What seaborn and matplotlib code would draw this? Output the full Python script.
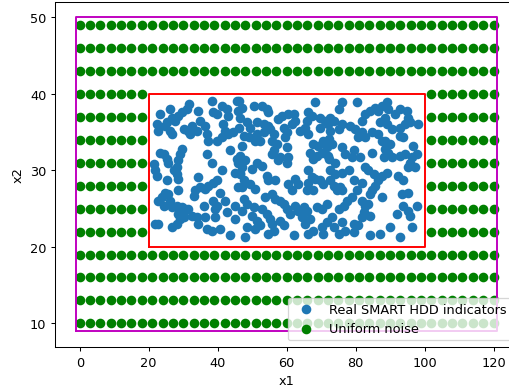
import matplotlib
matplotlib.use("Agg")
import matplotlib.pyplot as plt
import seaborn as sns
import numpy as np
import pandas as pd

# Uniform noise lattice (columns and rows of the grid)
noise_x_values = [0, 3, 6, 9, 12, 15, 18, 21, 24, 27, 30, 33, 36, 39, 42, 45, 48, 51, 54, 57,
                  60, 63, 66, 69, 72, 75, 78, 81, 84, 87, 90, 93, 96, 99, 102, 105, 108, 111,
                  114, 117, 120]
noise_y_values = [10, 13, 16, 19, 22, 25, 28, 31, 34, 37, 40, 43, 46, 49]

# Real SMART HDD indicators
real_x = [38.3, 41.2, 31.7, 31.0, 23.3, 26.2, 26.7, 25.3, 27.7, 28.6, 29.6, 34.4, 34.9, 38.7, 39.7,
          42.6, 43.1, 45.5, 46.0, 22.4, 22.8, 24.8, 26.2, 26.7, 30.1, 31.5, 32.5, 33.9, 32.0, 36.3,
          36.8, 37.3, 41.6, 42.1, 43.1, 44.5, 41.2, 39.7, 23.3, 24.3, 25.3, 25.7, 29.6, 29.1, 28.6,
          28.1, 27.2, 28.1, 36.8, 38.3, 43.6, 45.5, 46.0, 46.4, 45.0, 21.4, 21.9, 22.4, 25.3, 28.6,
          41.2, 39.7, 38.7, 37.3, 36.3, 34.9, 34.4, 33.4, 33.0, 40.7, 46.0, 24.8, 23.8, 22.8, 24.3,
          25.7, 26.2, 26.7, 28.6, 28.1, 29.6, 30.6, 28.6, 29.1, 30.1, 31.5, 35.9, 38.7, 39.7, 39.2,
          42.1, 42.6, 45.0, 32.5, 33.9, 34.4, 36.3, 39.2, 45.0, 21.9, 22.8, 26.7, 28.1, 36.8, 38.3,
          40.7, 43.6,
          46.1, 47.0, 50.4, 52.8, 54.3, 54.7, 46.5, 48.5, 49.4, 51.4, 53.3, 54.7, 55.2, 57.6, 58.6,
          60.5, 62.0, 62.4, 61.5, 68.2, 66.3, 67.3, 65.8, 65.3, 66.3, 69.7, 71.1, 72.1, 69.7, 72.6,
          46.1, 47.5, 49.0, 47.0, 51.4, 53.3, 52.3, 50.9, 56.2, 55.7, 57.1, 56.2, 55.7, 59.1, 60.0,
          59.5, 60.0, 58.1, 57.6, 60.5, 60.0, 63.9, 67.7, 69.2, 70.6, 71.6, 70.2, 72.1, 66.8, 68.7,
          67.7, 46.5, 48.0, 47.0, 46.5, 51.4, 52.8, 49.9, 54.3, 54.7, 47.5, 47.0, 49.4, 50.9, 56.7,
          60.5, 62.4, 63.4, 61.5, 66.3, 67.3, 68.2, 66.3, 69.7, 70.6, 65.8, 67.7, 53.8, 55.7, 56.7,
          58.1, 59.1, 47.5, 48.5, 47.0, 50.4, 49.9, 52.8, 54.3, 60.0, 61.0, 62.4, 63.4, 64.9, 65.8,
          64.4, 68.7, 70.2, 71.6, 51.4, 52.3, 50.9, 55.2, 55.7, 54.7, 56.2, 58.1, 59.1, 66.8, 65.3,
          66.3, 67.7, 70.2, 70.6, 71.6, 48.0, 48.5, 62.0,
          76.0, 75.1, 80.4, 89.0, 87.6, 89.5, 84.2, 85.7, 86.6, 82.8, 81.8, 92.9, 94.8, 91.4, 95.3,
          98.2, 95.8, 94.3, 87.1, 88.6, 89.0, 72.7, 73.6, 76.0, 75.1, 78.4, 79.9, 81.8, 80.8, 82.8,
          84.7, 86.6, 87.6, 90.5, 92.9, 93.8, 92.9, 88.6, 90.0, 88.6, 89.5, 90.5, 88.1, 96.7, 97.7,
          96.3, 94.3, 92.9, 72.2, 73.1, 76.0, 77.0, 79.4, 81.3, 78.9, 84.7, 72.2, 72.7, 95.3, 97.2,
          95.8, 74.1, 74.1, 76.0, 78.0, 82.8, 83.7, 85.2, 87.6, 89.0, 92.4, 93.8, 79.4, 81.8, 86.6,
          85.7, 84.7, 84.2, 75.5, 76.0, 74.6, 72.7, 73.6, 87.6, 93.4, 95.3, 93.8, 95.3, 97.7, 80.4,
          78.9, 77.5, 76.5, 75.1, 81.8, 82.8, 82.3, 81.8, 80.8, 83.7, 84.2, 91.9, 95.8, 73.1, 73.6,
          76.0, 77.0, 79.4, 79.4, 75.1, 90.0, 87.1, 84.2, 92.9, 96.3]
real_y = [39.1, 38.4, 38.7, 38.0, 37.4, 38.0, 36.9, 36.3, 36.5, 37.1, 37.6, 37.7, 36.5, 37.6, 37.4,
          38.0, 37.1, 39.1, 37.8, 36.0, 35.2, 35.8, 35.2, 34.7, 35.4, 35.2, 35.8, 35.2, 34.7, 35.8,
          34.7, 33.9, 36.0, 35.2, 34.7, 35.0, 34.3, 33.9, 32.3, 32.1, 31.5, 31.0, 32.8, 32.1, 31.3,
          30.4, 30.0, 29.5, 32.1, 31.0, 32.6, 31.5, 31.0, 29.7, 29.7, 30.8, 30.0, 29.3, 28.7, 28.9,
          30.0, 28.7, 28.4, 28.0, 27.6, 27.8, 29.1, 27.4, 26.7, 27.1, 27.8, 27.1, 26.5, 26.0, 25.4,
          26.9, 26.0, 25.2, 27.4, 25.4, 25.2, 25.0, 24.3, 23.7, 23.9, 25.0, 25.4, 26.0, 25.4, 25.0,
          26.0, 24.5, 25.4, 24.1, 23.9, 23.0, 23.9, 23.9, 23.7, 23.0, 23.0, 22.6, 23.0, 22.3, 22.1,
          22.3, 21.5,
          39.1, 38.2, 38.4, 38.4, 38.0, 37.6, 36.9, 36.3, 35.6, 36.3, 36.0, 35.8, 35.4, 36.7, 37.1,
          37.4, 37.4, 36.5, 36.0, 38.9, 37.6, 37.1, 36.5, 35.6, 34.7, 36.9, 36.5, 36.0, 35.6, 35.2,
          35.6, 34.5, 34.3, 33.2, 34.7, 35.0, 33.9, 33.9, 34.7, 33.9, 33.4, 32.6, 32.1, 35.6, 35.0,
          34.3, 33.0, 31.7, 31.3, 31.7, 31.0, 35.2, 33.4, 33.2, 33.9, 33.0, 32.3, 31.9, 32.3, 31.9,
          31.5, 31.9, 31.3, 30.4, 29.5, 31.0, 30.6, 30.2, 29.3, 28.7, 28.7, 27.8, 28.2, 27.6, 28.7,
          28.2, 28.9, 28.2, 27.4, 30.0, 29.1, 28.9, 28.4, 28.7, 28.2, 27.4, 27.4, 26.5, 26.9, 26.3,
          26.0, 25.6, 26.3, 25.6, 24.7, 25.2, 24.1, 25.0, 24.3, 25.0, 24.3, 25.4, 24.7, 25.2, 24.7,
          23.9, 25.2, 25.0, 25.6, 23.4, 22.8, 22.4, 23.7, 23.0, 21.7, 22.1, 23.4, 22.8, 23.7, 23.0,
          21.7, 22.1, 22.6, 21.7, 23.2, 21.3, 22.6, 21.5,
          38.9, 38.0, 38.9, 38.9, 38.4, 38.0, 37.8, 38.2, 37.8, 37.4, 36.5, 38.0, 37.8, 37.4, 36.9,
          36.0, 36.3, 36.0, 36.3, 36.9, 36.0, 36.9, 36.5, 36.0, 35.4, 35.8, 35.4, 35.0, 34.3, 34.3,
          35.0, 34.7, 33.9, 35.4, 35.6, 34.3, 34.5, 33.9, 33.4, 32.8, 32.3, 31.7, 31.7, 33.2, 32.1,
          31.7, 32.1, 31.9, 34.1, 33.4, 33.0, 32.1, 32.6, 31.7, 31.7, 32.3, 31.5, 30.0, 30.4, 30.4,
          31.0, 31.0, 29.5, 29.7, 30.0, 30.4, 30.0, 29.5, 29.3, 29.7, 29.3, 28.7, 28.7, 28.4, 28.7,
          28.0, 27.4, 26.9, 27.8, 27.4, 27.4, 28.7, 28.0, 26.5, 26.9, 27.1, 25.4, 24.7, 25.4, 27.4,
          26.5, 26.0, 25.4, 25.0, 26.0, 25.4, 24.5, 23.9, 22.8, 25.6, 24.1, 24.3, 24.1, 23.9, 22.6,
          23.2, 22.1, 23.0, 21.9, 21.7, 22.6, 21.7, 21.5, 21.3, 22.6]

# Rectangles (corners)
outer_box_x = [-1, 121, 121, -1, -1]
outer_box_y = [9, 9, 50, 50, 9]
inner_box_x = [20, 100, 100, 20, 20]
inner_box_y = [20, 20, 40, 40, 20]

label_real = "Real SMART HDD indicators"
label_noise = "Uniform noise"

# Build noise table: lattice points outside the inner box
gx, gy = np.meshgrid(noise_x_values, noise_y_values)
gx = gx.ravel()
gy = gy.ravel()
inside = (gx >= inner_box_x[0]) & (gx <= inner_box_x[1]) & (gy >= inner_box_y[0]) & (gy <= inner_box_y[2])
noise = pd.DataFrame({"x1": gx[~inside], "x2": gy[~inside]})
real = pd.DataFrame({"x1": real_x, "x2": real_y})

DPI = 92.5
fig = plt.figure(figsize=(510 / DPI, 389 / DPI), dpi=DPI)
ax = fig.add_axes([55.3 / 510, 1 - 347.7 / 389, (518.0 - 55.3) / 510, (347.7 - 2.7) / 389])

sns.scatterplot(data=real, x="x1", y="x2", ax=ax, color="#1f77b4", s=36,
                linewidth=1.5, edgecolor="face", label=label_real)
sns.scatterplot(data=noise, x="x1", y="x2", ax=ax, color="green", s=36,
                linewidth=1.5, edgecolor="face", label=label_noise)
ax.plot(outer_box_x, outer_box_y, color="m", linewidth=1.5)
ax.plot(inner_box_x, inner_box_y, color="r", linewidth=1.5)

ax.set_xlim(-7.1, 127.1)
ax.set_ylim(6.95, 52.05)
ax.set_xticks([0, 20, 40, 60, 80, 100, 120])
ax.set_yticks([10, 20, 30, 40, 50])
ax.set_xlabel("x1")
ax.set_ylabel("x2")
ax.legend(loc="lower right")

fig.savefig("out.png", dpi=DPI)
